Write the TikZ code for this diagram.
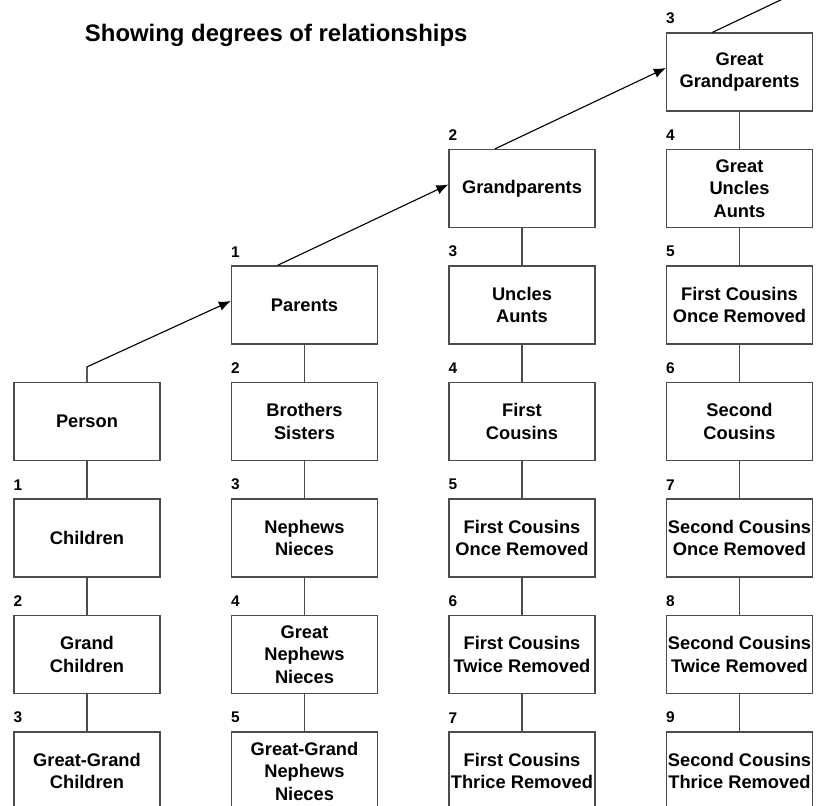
\documentclass[tikz,border=0pt]{standalone}
\usepackage{fontspec}
\setmainfont{Liberation Sans}
\usepackage{tikz}
\usetikzlibrary{shapes.geometric, arrows.meta, calc}
\tikzstyle{kin} = [rectangle, minimum width=3.65cm, minimum height=1.95cm, inner sep=1pt, align=center, text centered, draw=black!70, line width=0.9pt, fill=white, font=\fontsize{13}{16}\selectfont\bfseries]
\tikzstyle{degree} = [anchor=south west, inner sep=0pt, yshift=0.2cm, font=\fontsize{11}{13}\selectfont\bfseries]
\tikzstyle{arrow} = [line width=0.8pt,->,>={Latex[length=3mm,width=2.4mm]}]
\tikzstyle{link} = [line width=0.9pt, draw=black!70]

\begin{document}
\begin{tikzpicture}[node distance=2.9125cm]
		\useasboundingbox (-2.175,10.5375) rectangle (18.825,-9.6125);
		\node (subtitle) [anchor=base west, font=\fontsize{17}{20}\selectfont\bfseries] at (-0.175,9.5) {Showing degrees of relationships};
		
		% column 1
		\node (person) [kin] {Person};
		\node (child1) [kin, below of=person, label={[degree]north west:1}] {Children};
		\node (child2) [kin, below of=child1, label={[degree]north west:2}] {Grand\\Children};
		\node (child3) [kin, below of=child2, label={[degree]north west:3}] {Great-Grand\\Children};
		
		% column 2
		\node (sibs) [kin, right of=person, xshift=2.525cm, label={[degree]north west:2}] {Brothers\\Sisters};
		\node (parents) [kin, above of=sibs, label={[degree]north west:1}] {Parents};
		\node (nephews) [kin, below of=sibs, label={[degree]north west:3}] {Nephews\\Nieces};
		\node (gnephews) [kin, below of=nephews, label={[degree]north west:4}] {Great\\Nephews\\Nieces};
		\node (ggnephews) [kin, below of=gnephews, label={[degree]north west:5}] {Great-Grand\\Nephews\\Nieces};
		
		% column 3
		\node (cousin1) [kin, right of=sibs, xshift=2.525cm, label={[degree]north west:4}] {First\\Cousins};
		\node (uncles) [kin, above of=cousin1, label={[degree]north west:3}] {Uncles\\Aunts};
		\node (gp) [kin, above of=uncles, label={[degree]north west:2}] {Grandparents};
		\node (c1r1) [kin, below of=cousin1, label={[degree]north west:5}] {First Cousins\\Once Removed};
		\node (c1r2) [kin, below of=c1r1, label={[degree]north west:6}] {First Cousins\\Twice Removed};
		\node (c1r3) [kin, below of=c1r2, label={[degree]north west:7}] {First Cousins\\Thrice Removed};
		
		% column 4
		\node (cousin2) [kin, right of=cousin1, xshift=2.525cm, label={[degree]north west:6}] {Second\\Cousins};
		\node (fc1r) [kin, above of=cousin2, label={[degree]north west:5}] {First Cousins\\Once Removed};
		\node (guncles) [kin, above of=fc1r, label={[degree]north west:4}] {Great\\Uncles\\Aunts};
		\node (ggp) [kin, above of=guncles, label={[degree]north west:3}] {Great\\Grandparents};
		\node (c2r1) [kin, below of=cousin2, label={[degree]north west:7}] {Second Cousins\\Once Removed};
		\node (c2r2) [kin, below of=c2r1, label={[degree]north west:8}] {Second Cousins\\Twice Removed};
		\node (c2r3) [kin, below of=c2r2, label={[degree]north west:9}] {Second Cousins\\Thrice Removed};
		\coordinate (beyond) at ($(ggp.north)+(1.325,0.95)$);
		
		\draw [link] (person) -- (child1);
		\draw [link] (child1) -- (child2);
		\draw [link] (child2) -- (child3);
		
		\draw [link] (parents) -- (sibs);
		\draw [link] (sibs) -- (nephews);
		\draw [link] (nephews) -- (gnephews);
		\draw [link] (gnephews) -- (ggnephews);
		
		\draw [link] (gp) -- (uncles);
		\draw [link] (uncles) -- (cousin1);
		\draw [link] (cousin1) -- (c1r1);
		\draw [link] (c1r1) -- (c1r2);
		\draw [link] (c1r2) -- (c1r3);
		
		\draw [link] (ggp) -- (guncles);
		\draw [link] (guncles) -- (fc1r);
		\draw [link] (fc1r) -- (cousin2);
		\draw [link] (cousin2) -- (c2r1);
		\draw [link] (c2r1) -- (c2r2);
		\draw [link] (c2r2) -- (c2r3);
		
		% ancestors
		\draw [arrow] (person.north) -- ++(0,0.375) -- ([yshift=0.1cm]parents.west);
		\draw [arrow] ([xshift=-0.675cm]parents.north) -- ([yshift=0.1cm]gp.west);
		\draw [arrow] ([xshift=-0.675cm]gp.north) -- ([yshift=0.1cm]ggp.west);
		\draw [line width=0.8pt] ([xshift=-0.675cm]ggp.north) -- (beyond);
		
		\end{tikzpicture}
\end{document}
